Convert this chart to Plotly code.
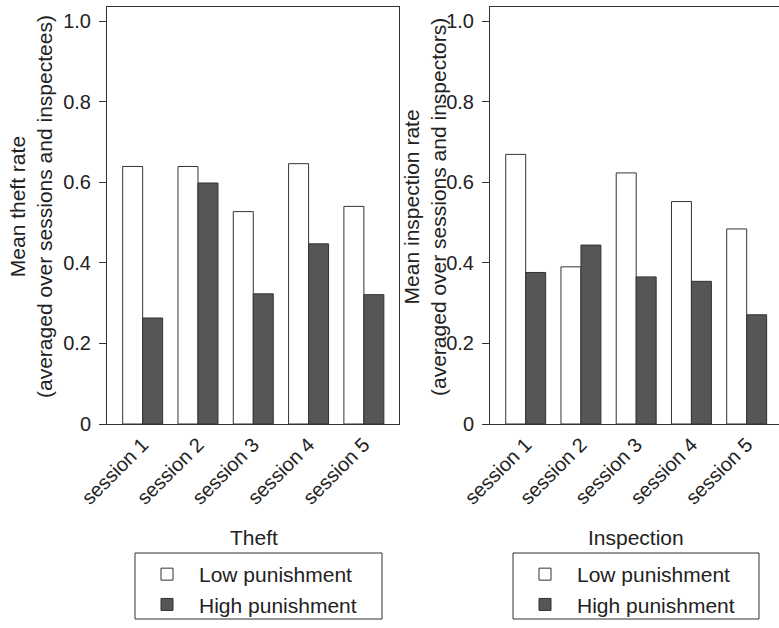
import plotly.graph_objects as go

sessions = ["session 1", "session 2", "session 3", "session 4", "session 5"]
theft_low = [0.639, 0.639, 0.527, 0.646, 0.540]
theft_high = [0.263, 0.598, 0.323, 0.447, 0.321]
insp_low = [0.669, 0.390, 0.623, 0.552, 0.484]
insp_high = [0.376, 0.444, 0.365, 0.354, 0.271]
y_ticks = [0, 0.2, 0.4, 0.6, 0.8, 1.0]
y_tick_labels = ["0", "0.2", "0.4", "0.6", "0.8", "1.0"]

W, H = 779, 628


def px(p):
    return p / W


def py(p):
    return 1 - p / H


FONT = "Liberation Sans, Arial, Helvetica, sans-serif"
TXT = "#222222"
DARK = "#555658"
EDGE = "#333333"

fig = go.Figure()
fig.add_trace(go.Bar(x=sessions, y=theft_low, name="Low punishment", marker=dict(color="white", line=dict(color=EDGE, width=1)), xaxis="x", yaxis="y", legend="legend"))
fig.add_trace(go.Bar(x=sessions, y=theft_high, name="High punishment", marker=dict(color=DARK, line=dict(color=EDGE, width=1)), xaxis="x", yaxis="y", legend="legend"))
fig.add_trace(go.Bar(x=sessions, y=insp_low, name="Low punishment", marker=dict(color="white", line=dict(color=EDGE, width=1)), xaxis="x2", yaxis="y2", legend="legend2"))
fig.add_trace(go.Bar(x=sessions, y=insp_high, name="High punishment", marker=dict(color=DARK, line=dict(color=EDGE, width=1)), xaxis="x2", yaxis="y2", legend="legend2"))

ydom = [py(424), py(7)]
yr = [0, 417 / 403]

xcommon = dict(type="category", showline=True, linecolor=EDGE, linewidth=1, ticks="", automargin=False,
               tickangle=-45, tickfont=dict(size=20, color=TXT, family=FONT), showgrid=False, zeroline=False, fixedrange=True)
ycommon = dict(range=yr, tickvals=y_ticks, ticktext=y_tick_labels, showline=True, linecolor=EDGE, linewidth=1,
               ticks="outside", ticklen=7, tickcolor=EDGE, tickfont=dict(size=20, color=TXT, family=FONT),
               showgrid=False, zeroline=False, ticklabelstandoff=4, automargin=False, fixedrange=True)

legcommon = dict(xanchor="left", y=py(554), yanchor="top", borderwidth=0, itemwidth=54,
                 font=dict(size=21, color=TXT, family=FONT), bgcolor="rgba(0,0,0,0)", tracegroupgap=0)

ann_font = dict(size=21, color=TXT, family=FONT)

fig.update_layout(
    width=W, height=H, margin=dict(l=0, r=0, t=0, b=0, autoexpand=False),
    paper_bgcolor="white", plot_bgcolor="white",
    barmode="group", bargap=0.277, bargroupgap=0,
    font=dict(family=FONT, color=TXT, size=20),
    xaxis=dict(domain=[px(107), px(399)], range=[-0.645, 4.635], mirror=True, anchor="y", **xcommon),
    yaxis=dict(domain=ydom, mirror=True, anchor="x", **ycommon),
    xaxis2=dict(domain=[px(490), 1.0], range=[-0.646, 4.585], mirror=True, anchor="y2", **xcommon),
    yaxis2=dict(domain=ydom, mirror=False, anchor="x2", **ycommon),
    legend=dict(x=px(135), **legcommon),
    legend2=dict(x=px(513), **legcommon),
    shapes=[
        dict(type="rect", xref="paper", yref="paper", x0=px(135), x1=px(382), y0=py(619), y1=py(553),
             line=dict(color=EDGE, width=1), fillcolor="rgba(0,0,0,0)"),
        dict(type="rect", xref="paper", yref="paper", x0=px(513), x1=px(759), y0=py(619), y1=py(553),
             line=dict(color=EDGE, width=1), fillcolor="rgba(0,0,0,0)"),
    ],
    annotations=[
        dict(text="Mean theft rate<br>(averaged over sessions and inspectees)", textangle=-90, x=px(31), y=py(207),
             xref="paper", yref="paper", showarrow=False, font=ann_font, xanchor="center", yanchor="middle"),
        dict(text="Mean inspection rate<br>(averaged over sessions and inspectors)", textangle=-90, x=px(425), y=py(207),
             xref="paper", yref="paper", showarrow=False, font=ann_font, xanchor="center", yanchor="middle"),
        dict(text="Theft", x=px(254), y=py(537), xref="paper", yref="paper", showarrow=False,
             font=ann_font, xanchor="center", yanchor="middle"),
        dict(text="Inspection", x=px(636), y=py(537), xref="paper", yref="paper", showarrow=False,
             font=ann_font, xanchor="center", yanchor="middle"),
    ],
)

fig.write_html("out.html", config={"displayModeBar": False, "staticPlot": True},
               post_script="document.body.style.margin='0';document.body.style.overflow='hidden';")
